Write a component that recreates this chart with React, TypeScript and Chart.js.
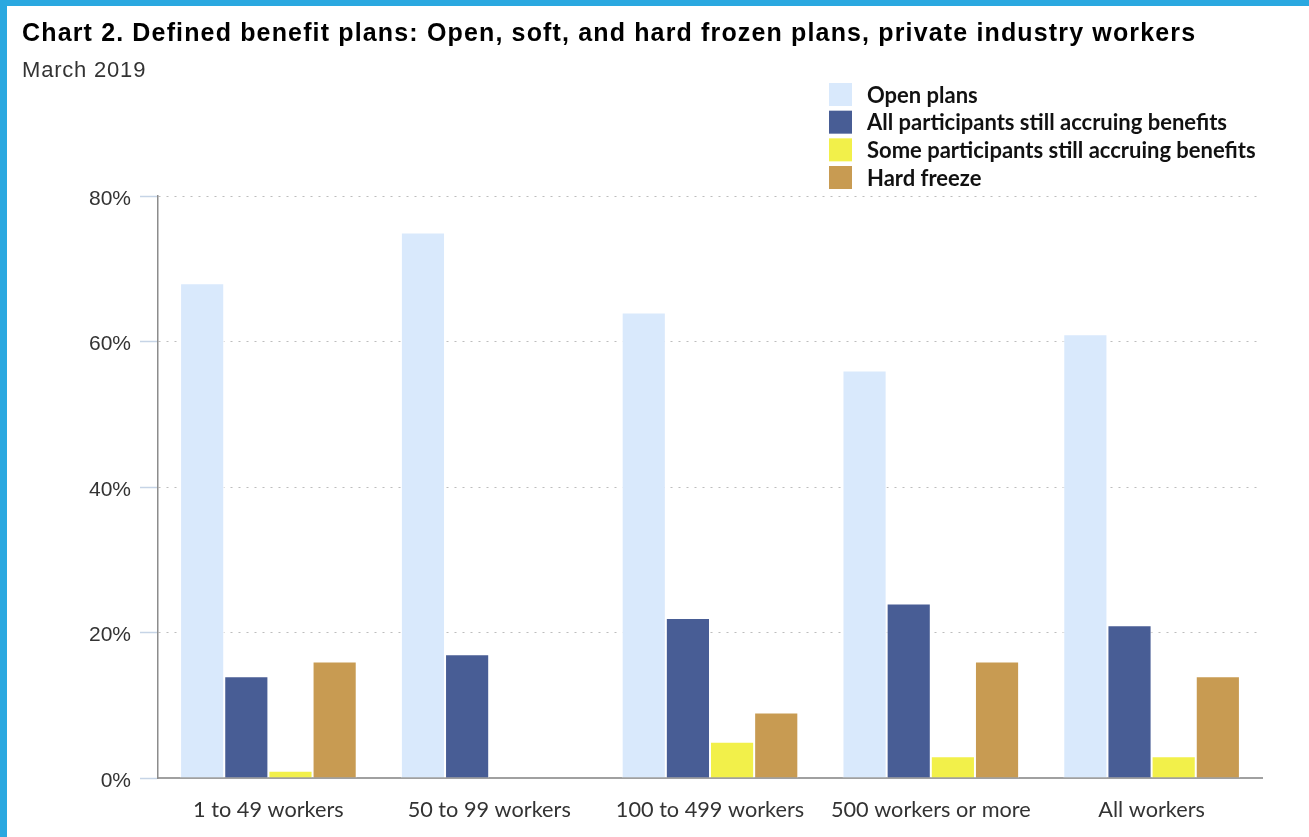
import React, { useEffect, useRef } from "react";
import { Chart, registerables } from "chart.js";

Chart.register(...registerables);

const categories = ["1 to 49 workers", "50 to 99 workers", "100 to 499 workers", "500 workers or more", "All workers"];
const openPlans = [68, 75, 64, 56, 61];
const allAccruing = [14, 17, 22, 24, 21];
const someAccruing = [1, null, 5, 3, 3];
const hardFreeze = [16, null, 9, 16, 14];
const yTicks = [0, 20, 40, 60, 80];

const seriesNames = ["Open plans", "All participants still accruing benefits", "Some participants still accruing benefits", "Hard freeze"];
const seriesColors = ["#d9e9fc", "#485d95", "#f2f04a", "#c89b52"];

const legendPlugin = {
  id: "customLegend",
  afterDraw(chart: any) {
    const ctx = chart.ctx;
    ctx.save();
    const x0 = 829;
    const y0 = 83;
    const pitch = 27.67;
    const box = 23;
    chart.data.datasets.forEach((ds: any, i: number) => {
      const y = y0 + i * pitch;
      ctx.fillStyle = ds.backgroundColor;
      ctx.fillRect(x0, y, box, box);
      ctx.fillStyle = "#111111";
      ctx.font = "bold 22px Lato";
      ctx.textBaseline = "middle";
      ctx.textAlign = "left";
      ctx.fillText(ds.label, 867, y + box / 2 + 1);
    });
    ctx.restore();
  },
};

export default function App() {
  const ref = useRef<HTMLCanvasElement>(null);
  useEffect(() => {
    document.body.style.margin = "0";
    const chart = new Chart(ref.current as HTMLCanvasElement, {
      type: "bar",
      data: {
        labels: categories,
        datasets: [openPlans, allAccruing, someAccruing, hardFreeze].map((d, i) => ({
          label: seriesNames[i],
          data: d,
          backgroundColor: seriesColors[i],
          borderColor: "#ffffff",
          borderWidth: 1,
          categoryPercentage: 0.8,
          barPercentage: 1.0,
        })),
      },
      options: {
        animation: false,
        responsive: true,
        maintainAspectRatio: false,
        layout: { padding: { top: 196, right: 47, bottom: 0, left: 0 } },
        plugins: { legend: { display: false }, tooltip: { enabled: false }, title: { display: false } },
        scales: {
          x: {
            grid: { display: false, drawTicks: false },
            border: { display: true, color: "#a0a0a0", width: 2 },
            ticks: { color: "#333333", font: { family: "Lato", size: 21.7 }, padding: 19, maxRotation: 0 },
            afterFit: (s: any) => { s.height = 59; },
          },
          y: {
            min: 0,
            max: 80,
            afterBuildTicks: (s: any) => { s.ticks = yTicks.map((v) => ({ value: v })); },
            grid: {
              color: (c: any) => (c.tick && c.tick.value === 0 ? "rgba(0,0,0,0)" : "#bdbdbd"),
              lineWidth: 1,
              drawTicks: true,
              tickLength: 18,
              tickColor: "#c6d4e6",
              tickWidth: 1.5,
            },
            border: { display: true, color: "#8c8c8c", width: 1.5, dash: [2, 6] },
            ticks: {
              color: "#333333",
              font: { family: "'Liberation Sans', Arial", size: 21 },
              padding: 9,
              labelOffset: 3,
              callback: (v: any) => v + "%",
            },
            afterFit: (s: any) => { s.width = 158; },
          },
        },
      },
      plugins: [legendPlugin],
    });
    return () => chart.destroy();
  }, []);

  return (
    <div style={{ position: "relative", width: 1309, height: 837, background: "#fff", overflow: "hidden" }}>
      <canvas ref={ref} style={{ position: "absolute", left: 0, top: 0 }} />
      <div style={{ position: "absolute", left: 22, top: 20, fontFamily: "'Liberation Sans', Arial", fontWeight: "bold", fontSize: 25, lineHeight: "25px", letterSpacing: "1.15px", color: "#000", whiteSpace: "nowrap" }}>
        Chart 2. Defined benefit plans: Open, soft, and hard frozen plans, private industry workers
      </div>
      <div style={{ position: "absolute", left: 22, top: 59, fontFamily: "'Liberation Sans', Arial", fontSize: 22, lineHeight: "22px", letterSpacing: "0.8px", color: "#333", whiteSpace: "nowrap" }}>
        March 2019
      </div>
      <div style={{ position: "absolute", left: 0, top: 0, width: 1309, height: 6, background: "#2aa8e0" }} />
      <div style={{ position: "absolute", left: 0, top: 0, width: 7, height: 837, background: "#2aa8e0" }} />
    </div>
  );
}
